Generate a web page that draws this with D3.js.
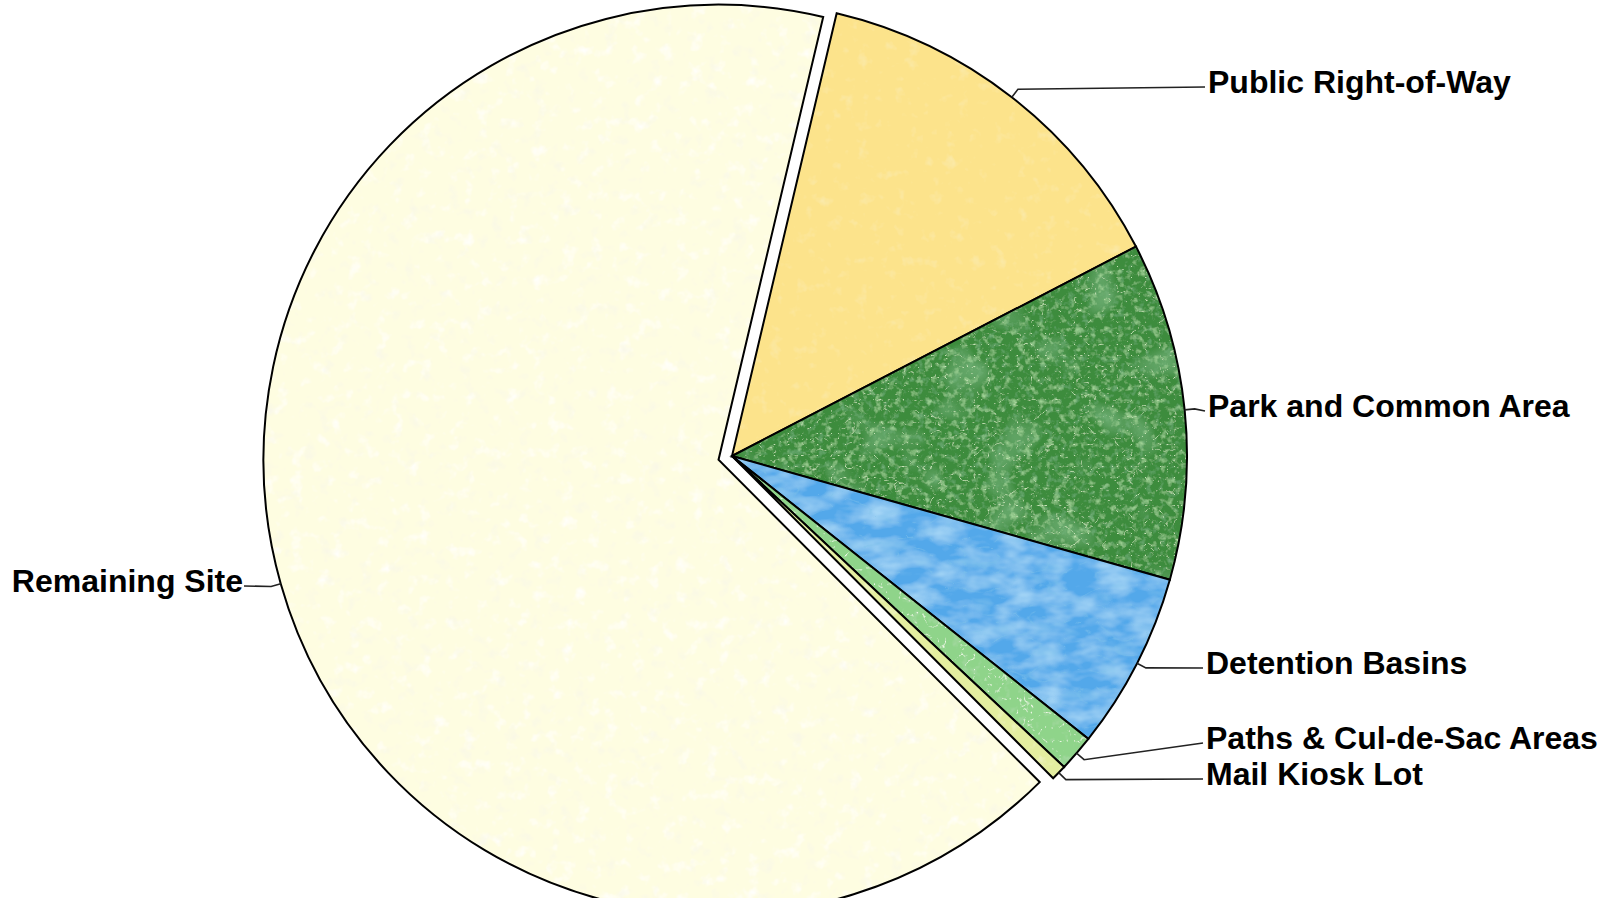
<!DOCTYPE html>
<html>
<head>
<meta charset="utf-8">
<script src="https://cdn.jsdelivr.net/npm/d3@7"></script>
<style>
  body { margin: 0; background: #fff; }
  .label { font-family: "Liberation Sans", Arial, sans-serif; font-weight: bold; font-size: 32px; fill: #000; }
</style>
</head>
<body>
<div id="plot"></div>
<script>
// Site land use shares (percent of total area)
const categories = ["Public Right-of-Way", "Park and Common Area", "Detention Basins",
  "Paths & Cul-de-Sac Areas", "Mail Kiosk Lot", "Remaining Site"];
const values = [13.7, 12.0, 6.3, 1.3, 0.55, 66.2];
const exploded = [0, 0, 0, 0, 0, 1];

const width = 1604, height = 898;
const cx = 732, cy = 456, radius = 455;
const explodeDist = 14;

const svg = d3.select("#plot").append("svg")
  .attr("width", width)
  .attr("height", height);

const defs = svg.append("defs");

// texture filters (noise layers over the flat fill)
function makeTexture(id, turb, layers) {
  const f = defs.append("filter").attr("id", id)
    .attr("x", "-5%").attr("y", "-5%").attr("width", "110%").attr("height", "110%");
  turb.forEach((t, k) => {
    f.append("feTurbulence")
      .attr("type", t.type)
      .attr("baseFrequency", t.freq)
      .attr("numOctaves", t.oct)
      .attr("seed", t.seed)
      .attr("result", "n" + k);
  });
  const names = [];
  layers.forEach((l, i) => {
    const c = d3.rgb(l.color);
    const ch = l.ch || 0;
    const row = [0, 0, 0, 0];
    row[ch] = l.a;
    f.append("feColorMatrix")
      .attr("in", "n" + (l.src || 0))
      .attr("type", "matrix")
      .attr("values", `0 0 0 0 ${c.r / 255} 0 0 0 0 ${c.g / 255} 0 0 0 0 ${c.b / 255} ${row.join(" ")} ${l.b}`)
      .attr("result", "l" + i);
    names.push("l" + i);
  });
  const m = f.append("feMerge").attr("result", "merged");
  m.append("feMergeNode").attr("in", "SourceGraphic");
  names.forEach(n => m.append("feMergeNode").attr("in", n));
  f.append("feComposite").attr("in", "merged").attr("in2", "SourceGraphic").attr("operator", "in");
}

makeTexture("tex-cream",
  [{ type: "fractalNoise", freq: 0.07, oct: 3, seed: 2 }],
  [{ color: "#ffffff", a: 2.5, b: -1.45 }, { color: "#f0edcc", a: -2.5, b: 1.0, ch: 1 }]);
makeTexture("tex-gold",
  [{ type: "fractalNoise", freq: 0.08, oct: 3, seed: 5 }],
  [{ color: "#f6dc84", a: -1.5, b: 0.6, ch: 1 }]);
makeTexture("tex-grass",
  [{ type: "fractalNoise", freq: 0.14, oct: 3, seed: 7 }, { type: "turbulence", freq: "0.07 0.09", oct: 3, seed: 11 },
   { type: "fractalNoise", freq: 0.02, oct: 2, seed: 21 }],
  [{ color: "#24652a", a: -3, b: 1.35, ch: 1 },
   { color: "#2c7431", a: -3, b: 1.3, src: 2 },
   { color: "#5fae52", a: 2.5, b: -1.35 },
   { color: "#9fd584", a: -9, b: 0.9, src: 1 }]);
makeTexture("tex-water",
  [{ type: "fractalNoise", freq: "0.03 0.06", oct: 3, seed: 4 }, { type: "turbulence", freq: "0.03 0.06", oct: 2, seed: 9 }],
  [{ color: "#72bdf1", a: 1.6, b: -0.6 },
   { color: "#3d92d8", a: -1.8, b: 0.75, ch: 1 },
   { color: "#3489d0", a: -5, b: 0.45, src: 1 }]);
makeTexture("tex-lightgrass",
  [{ type: "fractalNoise", freq: 0.1, oct: 3, seed: 3 }, { type: "turbulence", freq: 0.07, oct: 3, seed: 13 }],
  [{ color: "#62b05e", a: -3, b: 1.2, ch: 1 },
   { color: "#dff4cf", a: -8, b: 0.95, src: 1 }]);
makeTexture("tex-mail",
  [{ type: "fractalNoise", freq: 0.08, oct: 3, seed: 8 }],
  [{ color: "#f4f8c8", a: 2, b: -1.2 }]);

const fills = ["#fce38b", "#3d8c3d", "#52a8ea", "#8fd48a", "#e4eea0", "#fefde1"];
const textures = ["tex-gold", "tex-grass", "tex-water", "tex-lightgrass", "tex-mail", "tex-cream"];

const deg = Math.PI / 180;
const start = 13.3 * deg;
const pie = d3.pie().sort(null).value(d => d.value)
  .startAngle(start).endAngle(start + 2 * Math.PI);

const data = categories.map((c, i) => ({ name: c, value: values[i], explode: exploded[i], i: i }));
const arcs = pie(data);

const arc = d3.arc().innerRadius(0).outerRadius(radius);

const g = svg.append("g").attr("transform", `translate(${cx},${cy})`);

function offset(d) {
  const mid = (d.startAngle + d.endAngle) / 2;
  const k = d.data.explode ? explodeDist : 0;
  return [Math.sin(mid) * k, -Math.cos(mid) * k];
}

const slices = g.selectAll(".slice")
  .data(arcs)
  .enter()
  .append("g")
  .attr("class", "slice")
  .attr("transform", d => `translate(${offset(d)})`);

slices.append("path")
  .attr("d", arc)
  .attr("fill", d => fills[d.data.i])
  .attr("filter", d => `url(#${textures[d.data.i]})`);

slices.append("path")
  .attr("d", arc)
  .attr("fill", "none")
  .attr("stroke", "#000")
  .attr("stroke-width", 2)
  .attr("stroke-linejoin", "miter");

// label placement (text anchor x, baseline y) in page coordinates
const labelLayout = [
  { x: 1208, y: 93, side: "right" },
  { x: 1208, y: 417, side: "right" },
  { x: 1206, y: 674, side: "right" },
  { x: 1206, y: 749, side: "right" },
  { x: 1206, y: 785, side: "right" },
  { x: 243, y: 592, side: "left" }
];

const leaders = svg.append("g").attr("fill", "none").attr("stroke", "#222").attr("stroke-width", 1.6);

arcs.forEach(d => {
  const L = labelLayout[d.data.i];
  const mid = (d.startAngle + d.endAngle) / 2;
  const [ox, oy] = offset(d);
  const p0 = [cx + ox + Math.sin(mid) * radius, cy + oy - Math.cos(mid) * radius];
  const p1 = [cx + ox + Math.sin(mid) * (radius + 10), cy + oy - Math.cos(mid) * (radius + 10)];
  const ly = L.y - 6;
  const p2 = L.side === "right" ? [L.x - 3, ly] : [L.x + 1, ly];
  leaders.append("path").attr("d", d3.line()([p0, p1, p2]));

  svg.append("text")
    .attr("class", "label")
    .attr("x", L.x)
    .attr("y", L.y)
    .attr("text-anchor", L.side === "right" ? "start" : "end")
    .text(d.data.name);
});
</script>
</body>
</html>
